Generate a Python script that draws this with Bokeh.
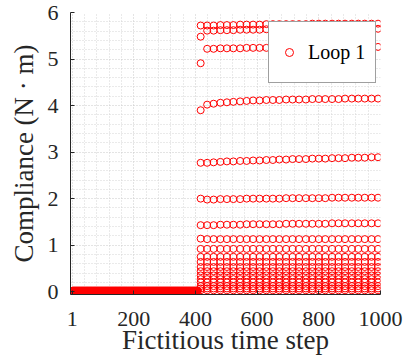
from bokeh.plotting import figure
from bokeh.models import (FixedTicker, Legend, LegendItem, Range1d,
                          ColumnDataSource)
from bokeh.embed import file_html
from bokeh.resources import INLINE

# ---------------- data ----------------
# Phase 1: steps 1..408, compliance ~0
zero_steps = list(range(1, 409))
zero_level = 0.02

# First column of the second phase
first_col_step = 417
first_col_values = [5.72, 5.48, 4.91, 3.90, 2.77, 2.00, 1.43, 1.14, 0.92,
                    0.75, 0.64, 0.53, 0.44, 0.35, 0.27, 0.20, 0.12, 0.07, 0.03]

# Later columns (one point per row per column)
col_steps = [438, 459, 481, 502, 523, 545, 566, 587, 608, 630, 651, 672, 694,
             715, 736, 758, 779, 800, 821, 843, 864, 885, 907, 928, 949, 971,
             992]

row_a = [5.72, 5.72, 5.73, 5.73, 5.73, 5.74, 5.74, 5.74, 5.74, 5.75, 5.75,
         5.75, 5.75, 5.75, 5.75, 5.75, 5.76, 5.76, 5.76, 5.76, 5.76, 5.76,
         5.76, 5.76, 5.76, 5.76, 5.76]
row_b = [5.61, 5.61, 5.62, 5.62, 5.62, 5.63, 5.63, 5.63, 5.63, 5.64, 5.64,
         5.64, 5.64, 5.64, 5.64, 5.64, 5.65, 5.65, 5.65, 5.65, 5.65, 5.65,
         5.65, 5.65, 5.65, 5.65, 5.65]
row_c = [5.22, 5.22, 5.23, 5.23, 5.23, 5.23, 5.24, 5.24, 5.24, 5.24, 5.24,
         5.24, 5.25, 5.25, 5.25, 5.25, 5.25, 5.25, 5.25, 5.25, 5.26, 5.26,
         5.26, 5.26, 5.26, 5.26, 5.26]
row_d = [4.02, 4.04, 4.06, 4.07, 4.08, 4.09, 4.10, 4.11, 4.11, 4.12, 4.12,
         4.12, 4.13, 4.13, 4.13, 4.13, 4.14, 4.14, 4.14, 4.14, 4.14, 4.15,
         4.15, 4.15, 4.15, 4.15, 4.15]
row_e = [2.77, 2.78, 2.79, 2.80, 2.80, 2.81, 2.81, 2.82, 2.82, 2.83, 2.83,
         2.84, 2.84, 2.85, 2.85, 2.85, 2.86, 2.86, 2.86, 2.87, 2.87, 2.87,
         2.88, 2.88, 2.88, 2.89, 2.89]
row_f = [1.98, 1.98, 1.99, 1.99, 1.99, 1.99, 2.00, 2.00, 2.00, 2.00, 2.00,
         2.00, 2.01, 2.01, 2.01, 2.01, 2.01, 2.01, 2.01, 2.02, 2.02, 2.02,
         2.02, 2.02, 2.02, 2.02, 2.02]
row_g = [1.43, 1.43, 1.44, 1.44, 1.44, 1.44, 1.45, 1.45, 1.45, 1.45, 1.45,
         1.45, 1.46, 1.46, 1.46, 1.46, 1.46, 1.46, 1.46, 1.47, 1.47, 1.47,
         1.47, 1.47, 1.47, 1.47, 1.47]
flat_levels = [1.13, 0.92, 0.75, 0.64, 0.53, 0.44, 0.35, 0.27, 0.20, 0.12,
               0.07, 0.03]

x_ticks = [1, 200, 400, 600, 800, 1000]
y_ticks = [0, 1, 2, 3, 4, 5, 6]

# ---------------- assemble points ----------------
xs = list(zero_steps)
ys = [zero_level] * len(zero_steps)
xs += [first_col_step] * len(first_col_values)
ys += first_col_values
for row in (row_a, row_b, row_c, row_d, row_e, row_f, row_g):
    xs += col_steps
    ys += row
for lev in flat_levels:
    xs += col_steps
    ys += [lev] * len(col_steps)

src = ColumnDataSource(dict(x=xs, y=ys))

SERIF = "Liberation Serif"
DARK = "#262626"

p = figure(width=413, height=363, output_backend="svg", toolbar_location=None,
           x_range=Range1d(-5, 1000), y_range=Range1d(-0.06, 6),
           min_border_left=70, min_border_right=33, min_border_top=12,
           min_border_bottom=69, background_fill_color="white",
           border_fill_color="white")
p.outline_line_color = None

r = p.scatter("x", "y", source=src, marker="circle", size=7,
              fill_color=None, line_color="#ff0000", line_width=1)

# ticks
minor_x = [40, 80, 120, 160, 240, 280, 320, 360, 440, 480, 520, 560, 640, 680,
           720, 760, 840, 880, 920, 960]
minor_y = [0.2, 0.4, 0.6, 0.8, 1.2, 1.4, 1.6, 1.8, 2.2, 2.4, 2.6, 2.8, 3.2,
           3.4, 3.6, 3.8, 4.2, 4.4, 4.6, 4.8, 5.2, 5.4, 5.6, 5.8]
p.xaxis.ticker = FixedTicker(ticks=x_ticks, minor_ticks=minor_x)
p.yaxis.ticker = FixedTicker(ticks=y_ticks, minor_ticks=minor_y)

for ax in (p.xaxis[0], p.yaxis[0]):
    ax.axis_line_color = DARK
    ax.axis_line_width = 1
    ax.major_tick_in = 4
    ax.major_tick_out = 0
    ax.major_tick_line_color = DARK
    ax.minor_tick_in = 0
    ax.minor_tick_out = 0
    ax.major_label_text_font = SERIF
    ax.major_label_text_color = DARK
    ax.axis_label_text_font = SERIF
    ax.axis_label_text_font_style = "normal"
    ax.axis_label_text_color = DARK

p.xaxis.major_label_text_font_size = "22px"
p.yaxis.major_label_text_font_size = "22px"
p.xaxis.axis_label = "Fictitious time step"
p.yaxis.axis_label = "Compliance (N \u00b7 m)"
p.xaxis.axis_label_text_font_size = "27px"
p.yaxis.axis_label_text_font_size = "27px"
p.xaxis.major_label_standoff = 17
p.yaxis.major_label_standoff = 12
p.xaxis.axis_label_standoff = -4
p.yaxis.axis_label_standoff = 6

# grids
for g in (p.xgrid[0], p.ygrid[0]):
    g.grid_line_color = "#c8c8c8"
    g.grid_line_dash = "1 2"
    g.grid_line_width = 1
    g.minor_grid_line_color = "#d4d4d4"
    g.minor_grid_line_dash = "1 2"
    g.minor_grid_line_width = 1

legend = Legend(items=[LegendItem(label="Loop 1", renderers=[r])],
                location=(198, 211))
legend.padding = 10
legend.margin = 0
legend.spacing = 0
legend.glyph_width = 20
legend.glyph_height = 40
legend.label_height = 40
legend.label_width = 50
legend.label_standoff = 9
legend.label_text_font = SERIF
legend.label_text_font_size = "20px"
legend.label_text_color = "black"
legend.border_line_color = "#404040"
legend.border_line_width = 1.5
legend.background_fill_color = "white"
legend.background_fill_alpha = 1
p.add_layout(legend)

open("out.html", "w").write(file_html(p, INLINE))
